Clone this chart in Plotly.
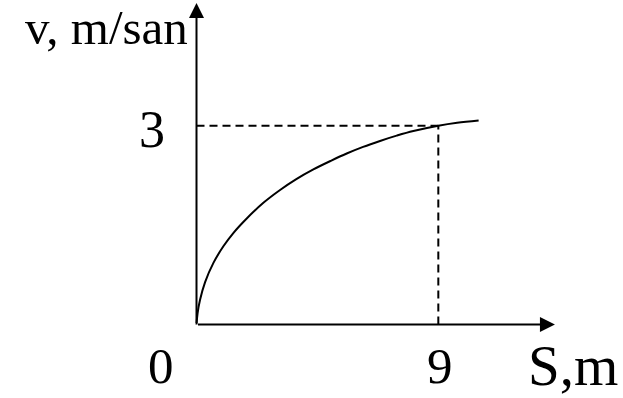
import plotly.graph_objects as go

# Velocity vs distance curve (S in m, v in m/san)
S_vals = [0, 0.04, 0.13, 0.32, 0.63, 1.0, 1.37, 1.87, 2.5, 3.11, 3.7, 4.35,
          5.0, 5.59, 6.2, 6.83, 7.45, 8.07, 9.0, 9.7, 10.5]
v_vals = [0, 0.17, 0.37, 0.64, 0.93, 1.18, 1.38, 1.6, 1.84, 2.03, 2.19, 2.34,
          2.47, 2.58, 2.68, 2.77, 2.85, 2.92, 3.0, 3.045, 3.08]

# Marked point and its labels
S_mark = 9
v_mark = 3
x_tick_labels = ["0", "9"]
y_tick_labels = ["3"]

# Axis extents (arrow tips) and visible window
S_axis_end = 13.34
v_axis_end = 4.85
x_range = [-7.313, 15.873]
y_range = [-1.109, 4.897]

FONT = "Liberation Serif, Times New Roman, serif"
BLACK = "#000000"

fig = go.Figure()

# curve
fig.add_trace(go.Scatter(
    x=S_vals, y=v_vals, mode="lines",
    line=dict(color=BLACK, width=2, shape="spline", smoothing=1.0),
    hoverinfo="skip",
))

# dashed guide lines to the marked point
fig.add_trace(go.Scatter(
    x=[0, S_mark], y=[v_mark, v_mark], mode="lines",
    line=dict(color=BLACK, width=2, dash="8px,5px"), hoverinfo="skip",
))
fig.add_trace(go.Scatter(
    x=[S_mark, S_mark], y=[0, v_mark], mode="lines",
    line=dict(color=BLACK, width=2, dash="8px,5px"), hoverinfo="skip",
))

annotations = [
    # x axis with arrow
    dict(x=S_axis_end, y=0, ax=0, ay=0, xref="x", yref="y", axref="x", ayref="y",
         text="", showarrow=True, arrowhead=2, arrowsize=1.5, arrowwidth=2,
         arrowcolor=BLACK),
    # y axis with arrow
    dict(x=0, y=v_axis_end, ax=0, ay=0, xref="x", yref="y", axref="x", ayref="y",
         text="", showarrow=True, arrowhead=2, arrowsize=1.5, arrowwidth=2,
         arrowcolor=BLACK),
    # tick labels
    dict(x=0, y=0, xref="x", yref="y", text=x_tick_labels[0], showarrow=False,
         xanchor="center", yanchor="middle", xshift=-36, yshift=-41,
         font=dict(family=FONT, size=51, color=BLACK)),
    dict(x=S_mark, y=0, xref="x", yref="y", text=x_tick_labels[1], showarrow=False,
         xanchor="center", yanchor="middle", xshift=2, yshift=-41,
         font=dict(family=FONT, size=51, color=BLACK)),
    dict(x=0, y=v_mark, xref="x", yref="y", text=y_tick_labels[0], showarrow=False,
         xanchor="center", yanchor="middle", xshift=-45, yshift=-4,
         font=dict(family=FONT, size=52, color=BLACK)),
    # axis titles
    dict(x=S_axis_end, y=0, xref="x", yref="y", text="S,m", showarrow=False,
         xanchor="center", yanchor="middle", xshift=18, yshift=-41,
         font=dict(family=FONT, size=57, color=BLACK)),
    dict(x=0, y=v_axis_end, xref="x", yref="y", text="v, m/san", showarrow=False,
         xanchor="right", yanchor="top", xshift=-7, yshift=5,
         font=dict(family=FONT, size=49, color=BLACK)),
]

fig.update_layout(
    width=623, height=398,
    margin=dict(l=0, r=0, t=0, b=0),
    paper_bgcolor="white", plot_bgcolor="white",
    showlegend=False,
    xaxis=dict(range=x_range, visible=False, fixedrange=True),
    yaxis=dict(range=y_range, visible=False, fixedrange=True),
    annotations=annotations,
)

fig.write_html("out.html", config={"displayModeBar": False})
